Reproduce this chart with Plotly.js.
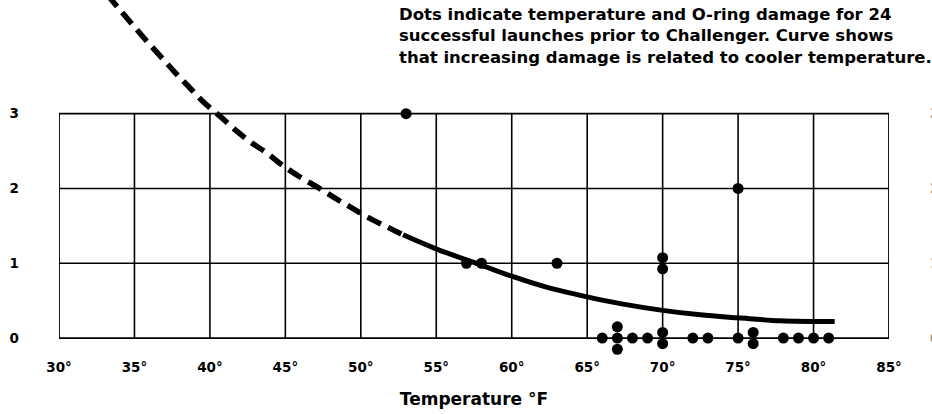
<!DOCTYPE html>
<html>
<head>
<meta charset="utf-8">
<script src="https://cdn.plot.ly/plotly-3.0.1.min.js"></script>
<style>html,body{margin:0;padding:0;background:#fff;}#chart{width:932px;height:414px;}</style>
</head>
<body>
<div id="chart"></div>
<script>
// Launch data: temperature (°F) and O-ring damage index
const launchTemps  = [53, 57, 58, 63, 70, 70, 75, 66, 67, 67, 67, 68, 69, 70, 70, 72, 73, 75, 76, 76, 78, 79, 80, 81];
const launchDamage = [3,  1,  1,  1,  1,  1,  2,  0,  0,  0,  0,  0,  0,  0,  0,  0,  0,  0,  0,  0,  0,  0,  0,  0];

// Fitted curve (extrapolated part dashed)
const dashedTemps  = [33.2, 34.2, 35.0, 35.9, 36.8, 37.7, 38.6, 39.5, 40.7, 41.7, 42.7, 43.8, 44.8, 46.0, 47.1, 48.3, 49.4, 50.6, 51.8, 52.8];
const dashedDamage = [4.59, 4.35, 4.16, 3.95, 3.75, 3.55, 3.36, 3.17, 2.96, 2.78, 2.62, 2.47, 2.31, 2.15, 2.02, 1.87, 1.74, 1.60, 1.48, 1.38];
const solidTemps   = [52.8, 54.9, 57.9, 60.1, 62.3, 65.0, 67.2, 70.0, 72.5, 75.0, 77.8, 81.4];
const solidDamage  = [1.38, 1.20, 0.98, 0.82, 0.68, 0.55, 0.46, 0.37, 0.31, 0.27, 0.23, 0.22];

// Axis ticks
const xTickVals = [30, 35, 40, 45, 50, 55, 60, 65, 70, 75, 80, 85];
const xTickText = ['30°', '35°', '40°', '45°', '50°', '55°', '60°', '65°', '70°', '75°', '80°', '85°'];
const yTickVals = [0, 1, 2, 3];
const yTickText = ['0', '1', '2', '3'];

const noteText = 'Dots indicate temperature and O-ring damage for 24<br>successful launches prior to Challenger. Curve shows<br>that increasing damage is related to cooler temperature.';
const xTitle = 'Temperature °F';

// Stack coincident dots vertically (display only)
const stackStep = 0.15;
const groups = {};
launchTemps.forEach((t, i) => {
  const k = t + '|' + launchDamage[i];
  (groups[k] = groups[k] || []).push(i);
});
const dotY = launchDamage.slice();
Object.values(groups).forEach(idx => {
  const n = idx.length;
  if (n === 1) return;
  if (n % 2 === 0) {
    idx.forEach((i, j) => {
      const m = Math.floor(j / 2) + 0.5;
      dotY[i] = launchDamage[i] + (j % 2 === 0 ? m : -m) * stackStep;
    });
  } else {
    idx.forEach((i, j) => {
      if (j === 0) return;
      const m = Math.ceil(j / 2);
      dotY[i] = launchDamage[i] + (j % 2 === 1 ? m : -m) * stackStep;
    });
  }
});

const F = 'DejaVu Sans, Verdana, sans-serif';
const xMin = xTickVals[0], xMax = xTickVals[xTickVals.length - 1];
const yMin = yTickVals[0], yMax = yTickVals[yTickVals.length - 1];
const gridLine = {color: '#000', width: 1.6};
const shapes = [];
xTickVals.slice(1, -1).forEach(v => shapes.push({type: 'line', xref: 'x', yref: 'y', x0: v, x1: v, y0: yMin, y1: yMax, line: gridLine, layer: 'below'}));
yTickVals.slice(1, -1).forEach(v => shapes.push({type: 'line', xref: 'x', yref: 'y', x0: xMin, x1: xMax, y0: v, y1: v, line: gridLine, layer: 'below'}));
shapes.push({type: 'rect', xref: 'x', yref: 'y', x0: xMin, x1: xMax, y0: yMin, y1: yMax, line: {color: '#000', width: 1.8}, layer: 'below'});

const traces = [
  {x: dashedTemps, y: dashedDamage, mode: 'lines', line: {color: '#000', width: 5.5, dash: '15px,8px', shape: 'spline'}, hoverinfo: 'skip'},
  {x: solidTemps, y: solidDamage, mode: 'lines', line: {color: '#000', width: 5, shape: 'spline'}, hoverinfo: 'skip'},
  {x: launchTemps, y: dotY, mode: 'markers', marker: {color: '#000', size: 11}, cliponaxis: false},
  {x: [xMin], y: [yMin], yaxis: 'y2', mode: 'markers', marker: {opacity: 0}, hoverinfo: 'skip'}
];

const yRange = [-0.2, 4.52];
const layout = {
  width: 932, height: 414,
  margin: {l: 59, r: 43, t: 0, b: 61},
  paper_bgcolor: '#fff', plot_bgcolor: '#fff',
  showlegend: false,
  font: {family: F, color: '#000'},
  xaxis: {
    range: [xMin, xMax], tickvals: xTickVals, ticktext: xTickText,
    showgrid: false, zeroline: false, showline: false, ticks: '',
    ticklabelstandoff: 4,
    tickfont: {family: F, size: 13.5, weight: 'bold', color: '#000'},
    title: {text: xTitle, font: {family: F, size: 17, weight: 'bold', color: '#000'}, standoff: 19},
    automargin: false
  },
  yaxis: {
    range: yRange, tickvals: yTickVals, ticktext: yTickText,
    showgrid: false, zeroline: false, showline: false, ticks: '',
    ticklabelstandoff: 39,
    tickfont: {family: F, size: 13.5, weight: 'bold', color: '#000'},
    automargin: false
  },
  yaxis2: {
    overlaying: 'y', side: 'right', range: yRange, tickvals: yTickVals, ticktext: yTickText,
    showgrid: false, zeroline: false, showline: false, ticks: '',
    ticklabelstandoff: 40,
    tickfont: {family: F, size: 13.5, weight: 'bold', color: '#888'},
    automargin: false
  },
  shapes: shapes,
  annotations: [{
    xref: 'paper', yref: 'paper', x: 0.407, y: 1, xanchor: 'left', yanchor: 'top', yshift: -3,
    align: 'left', showarrow: false, text: noteText,
    font: {family: F, size: 16.5, weight: 'bold', color: '#000'}
  }]
};

Plotly.newPlot('chart', traces, layout, {staticPlot: true, displayModeBar: false});
</script>
</body>
</html>
